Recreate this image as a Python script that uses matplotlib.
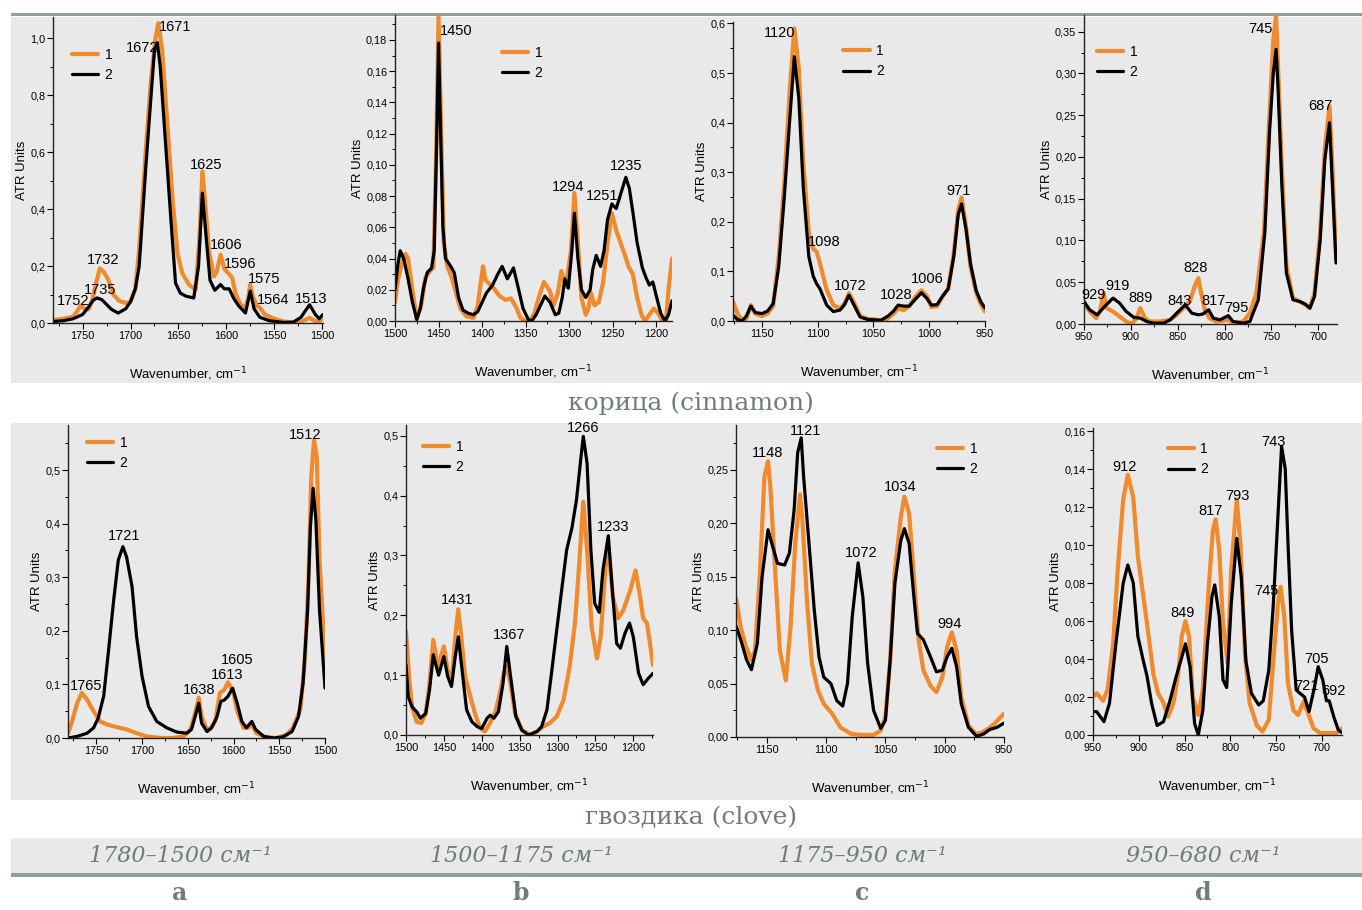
import matplotlib
matplotlib.use("Agg")
import matplotlib.pyplot as plt
from matplotlib.patches import Rectangle
from matplotlib.ticker import MultipleLocator, FuncFormatter

plt.rcParams['font.family'] = ['Liberation Sans Narrow', 'Liberation Sans', 'DejaVu Sans']

# ---------------- cinnamon, 1780-1500 ----------------
cin_a_wn1 = [1781, 1770, 1760, 1755, 1752, 1748, 1744, 1740, 1736, 1732, 1728, 1723, 1718, 1712, 1705,
             1700, 1695, 1691, 1684, 1679, 1674, 1671, 1667, 1661, 1656, 1651, 1646, 1639, 1632, 1628,
             1625, 1622, 1618, 1613, 1610, 1606, 1602, 1598, 1594, 1590, 1585, 1580, 1577, 1575, 1572,
             1568, 1565, 1560, 1550, 1540, 1530, 1522, 1517, 1513, 1509, 1505, 1502, 1499]
cin_a_ab1 = [0.010, 0.015, 0.022, 0.045, 0.062, 0.050, 0.048, 0.080, 0.140, 0.192, 0.180, 0.150, 0.100, 0.078, 0.070,
             0.075, 0.120, 0.260, 0.610, 0.840, 1.000, 1.053, 0.960, 0.670, 0.430, 0.245, 0.175, 0.135, 0.117, 0.300,
             0.532, 0.420, 0.250, 0.164, 0.180, 0.240, 0.190, 0.175, 0.160, 0.100, 0.065, 0.050, 0.090, 0.135, 0.090,
             0.060, 0.055, 0.030, 0.015, 0.005, 0.002, 0.004, 0.012, 0.018, 0.010, 0.004, 0.008, 0.020]
cin_a_wn2 = [1781, 1770, 1760, 1750, 1743, 1739, 1735, 1730, 1725, 1720, 1713, 1705, 1700, 1695, 1691,
             1684, 1679, 1675, 1672, 1669, 1663, 1658, 1653, 1648, 1642, 1634, 1629, 1625, 1621, 1617,
             1612, 1606, 1602, 1597, 1592, 1587, 1580, 1575, 1571, 1565, 1555, 1540, 1530, 1522, 1517,
             1513, 1507, 1503, 1499]
cin_a_ab2 = [0.005, 0.008, 0.015, 0.030, 0.060, 0.080, 0.088, 0.082, 0.065, 0.048, 0.035, 0.050, 0.075, 0.120, 0.200,
             0.550, 0.780, 0.960, 0.985, 0.900, 0.610, 0.370, 0.140, 0.105, 0.094, 0.088, 0.200, 0.456, 0.300, 0.150,
             0.115, 0.135, 0.120, 0.120, 0.085, 0.060, 0.035, 0.112, 0.050, 0.020, 0.008, 0.002, 0.003, 0.020, 0.045,
             0.064, 0.030, 0.015, 0.030]
cin_a_peaks = ["1752", "1732", "1735", "1672", "1671", "1625", "1606", "1596", "1575", "1564", "1513"]
cin_a_peak_pos = [(1760.4, 0.076), (1728.5, 0.222), (1732, 0.117), (1688.2, 0.965), (1653.8, 1.041),
                  (1621.5, 0.556), (1600, 0.275), (1586, 0.208), (1560.8, 0.154), (1551.4, 0.082),
                  (1511.8, 0.084)]

# ---------------- cinnamon, 1500-1175 ----------------
cin_b_wn1 = [1500, 1497, 1493, 1488, 1485, 1480, 1475, 1470, 1465, 1460, 1456, 1453, 1450, 1447, 1444,
             1440, 1435, 1430, 1425, 1418, 1410, 1405, 1399, 1396, 1388, 1380, 1373, 1367, 1361, 1356,
             1350, 1345, 1340, 1335, 1329, 1322, 1318, 1313, 1309, 1304, 1298, 1294, 1290, 1286, 1281,
             1278, 1275, 1271, 1266, 1261, 1256, 1251, 1246, 1241, 1236, 1232, 1227, 1222, 1217, 1213,
             1208, 1203, 1198, 1193, 1189, 1186, 1182]
cin_b_ab1 = [0.012, 0.025, 0.035, 0.043, 0.040, 0.020, 0.001, 0.010, 0.028, 0.032, 0.034, 0.100, 0.195, 0.120, 0.050,
             0.035, 0.028, 0.018, 0.008, 0.003, 0.002, 0.010, 0.035, 0.026, 0.022, 0.016, 0.0135, 0.0145, 0.009, 0.002,
             0.000, 0.000, 0.005, 0.015, 0.025, 0.019, 0.010, 0.018, 0.032, 0.022, 0.045, 0.082, 0.050, 0.015, 0.004,
             0.008, 0.018, 0.010, 0.012, 0.025, 0.050, 0.069, 0.058, 0.050, 0.042, 0.035, 0.030, 0.015, 0.004, 0.000,
             0.004, 0.008, 0.005, 0.000, 0.000, 0.020, 0.040]
cin_b_wn2 = [1500, 1497, 1494, 1490, 1485, 1480, 1475, 1471, 1467, 1463, 1458, 1455, 1452, 1450, 1448,
             1445, 1442, 1436, 1432, 1427, 1422, 1416, 1410, 1405, 1400, 1395, 1388, 1382, 1377, 1371,
             1364, 1358, 1353, 1347, 1343, 1338, 1333, 1328, 1322, 1316, 1312, 1308, 1305, 1301, 1297,
             1294, 1290, 1286, 1281, 1276, 1273, 1269, 1264, 1260, 1256, 1251, 1246, 1240, 1235, 1231,
             1227, 1222, 1216, 1212, 1208, 1204, 1200, 1195, 1190, 1186, 1182]
cin_b_ab2 = [0.020, 0.035, 0.045, 0.040, 0.027, 0.012, 0.001, 0.008, 0.022, 0.031, 0.034, 0.045, 0.120, 0.178, 0.130,
             0.060, 0.040, 0.035, 0.031, 0.015, 0.007, 0.005, 0.004, 0.006, 0.012, 0.018, 0.023, 0.030, 0.035, 0.027,
             0.034, 0.020, 0.008, 0.001, 0.000, 0.004, 0.010, 0.016, 0.012, 0.004, 0.005, 0.015, 0.027, 0.021, 0.045,
             0.069, 0.040, 0.020, 0.015, 0.020, 0.033, 0.042, 0.035, 0.045, 0.065, 0.075, 0.072, 0.083, 0.092, 0.085,
             0.070, 0.050, 0.034, 0.028, 0.023, 0.025, 0.016, 0.005, 0.000, 0.004, 0.013]
cin_b_peaks = ["1450", "1294", "1251", "1235"]
cin_b_peak_pos = [(1429.7, 0.186), (1301.4, 0.086), (1262.2, 0.080), (1234.2, 0.099)]

# ---------------- cinnamon, 1175-950 ----------------
cin_c_wn = [1176, 1172, 1168, 1164, 1160, 1156, 1150, 1145, 1140, 1135, 1130, 1125, 1121, 1117, 1113,
            1108, 1104, 1101, 1098, 1092, 1086, 1080, 1076, 1072, 1067, 1062, 1055, 1048, 1043, 1037,
            1032, 1028, 1023, 1018, 1012, 1007, 1002, 998, 993, 988, 983, 978, 974, 971, 967,
            963, 958, 954, 950]
cin_c_ab1 = [0.039, 0.015, 0.002, 0.005, 0.032, 0.015, 0.010, 0.015, 0.030, 0.130, 0.280, 0.470, 0.590, 0.510, 0.320,
             0.177, 0.145, 0.140, 0.116, 0.063, 0.032, 0.025, 0.035, 0.056, 0.035, 0.010, 0.004, 0.003, 0.000, 0.005,
             0.015, 0.025, 0.022, 0.030, 0.050, 0.062, 0.050, 0.028, 0.030, 0.050, 0.065, 0.136, 0.225, 0.249, 0.190,
             0.110, 0.058, 0.035, 0.019]
cin_c_ab2 = [0.012, 0.003, 0.000, 0.010, 0.030, 0.017, 0.015, 0.020, 0.035, 0.110, 0.250, 0.410, 0.533, 0.450, 0.270,
             0.130, 0.090, 0.075, 0.065, 0.032, 0.019, 0.022, 0.033, 0.052, 0.030, 0.008, 0.003, 0.002, 0.002, 0.010,
             0.020, 0.032, 0.030, 0.030, 0.045, 0.057, 0.045, 0.032, 0.033, 0.050, 0.065, 0.130, 0.215, 0.236, 0.185,
             0.115, 0.062, 0.040, 0.026]
cin_c_peaks = ["1120", "1098", "1072", "1028", "1006", "971"]
cin_c_peak_pos = [(1134.2, 0.580), (1094.5, 0.160), (1071.2, 0.0706), (1029.7, 0.052), (1002, 0.084),
                  (973.9, 0.263)]

# ---------------- cinnamon, 950-680 ----------------
cin_d_wn1 = [950, 944, 937, 933, 929, 926, 919, 912, 905, 899, 894, 890, 885, 880, 869,
             858, 851, 844, 837, 832, 828, 825, 821, 816, 809, 801, 796, 791, 780, 773,
             766, 758, 753, 748, 745, 743, 739, 734, 727, 720, 714, 709, 704, 698, 693,
             688, 685, 681]
cin_d_ab1 = [0.025, 0.015, 0.007, 0.015, 0.037, 0.019, 0.015, 0.009, 0.003, 0.000, 0.007, 0.019, 0.007, 0.003, 0.003,
             0.005, 0.011, 0.019, 0.027, 0.045, 0.055, 0.037, 0.017, 0.007, 0.003, 0.004, 0.005, 0.001, 0.003, 0.013,
             0.037, 0.110, 0.230, 0.340, 0.370, 0.310, 0.190, 0.070, 0.031, 0.027, 0.023, 0.019, 0.037, 0.110, 0.210,
             0.261, 0.190, 0.077]
cin_d_wn2 = [950, 944, 936, 928, 919, 912, 905, 897, 890, 883, 876, 865, 858, 851, 842,
             835, 828, 823, 817, 812, 805, 796, 791, 780, 773, 764, 757, 752, 748, 745,
             743, 739, 734, 727, 720, 714, 709, 704, 698, 693, 688, 685, 681]
cin_d_ab2 = [0.027, 0.017, 0.011, 0.021, 0.031, 0.025, 0.015, 0.008, 0.007, 0.003, 0.001, 0.001, 0.005, 0.013, 0.023,
             0.013, 0.011, 0.012, 0.017, 0.007, 0.005, 0.010, 0.003, 0.001, 0.003, 0.029, 0.110, 0.230, 0.300, 0.329,
             0.285, 0.170, 0.061, 0.029, 0.027, 0.024, 0.019, 0.033, 0.100, 0.197, 0.241, 0.169, 0.073]
cin_d_peaks = ["929", "919", "889", "843", "828", "817", "795", "745", "687"]
cin_d_peak_pos = [(939.7, 0.035), (913.7, 0.045), (889.9, 0.031), (848.3, 0.027), (830.5, 0.067),
                  (811.3, 0.027), (787.8, 0.019), (761.5, 0.353), (697.5, 0.261)]

# ---------------- clove, 1780-1500 ----------------
clo_a_wn1 = [1781, 1777, 1771, 1766, 1760, 1753, 1746, 1738, 1727, 1717, 1706, 1695, 1680, 1666, 1655,
             1647, 1643, 1638, 1635, 1630, 1626, 1620, 1615, 1610, 1606, 1600, 1596, 1589, 1584, 1580,
             1575, 1564, 1553, 1542, 1535, 1527, 1522, 1518, 1515, 1512, 1509, 1506, 1500]
clo_a_ab1 = [0.009, 0.028, 0.065, 0.084, 0.071, 0.050, 0.031, 0.025, 0.020, 0.016, 0.009, 0.003, 0.000, 0.000, 0.003,
             0.016, 0.040, 0.075, 0.040, 0.019, 0.016, 0.031, 0.084, 0.090, 0.104, 0.084, 0.050, 0.019, 0.019, 0.025,
             0.009, 0.001, 0.000, 0.006, 0.019, 0.053, 0.146, 0.300, 0.488, 0.556, 0.525, 0.332, 0.146]
clo_a_wn2 = [1781, 1771, 1760, 1753, 1748, 1742, 1737, 1731, 1726, 1721, 1717, 1711, 1706, 1700, 1693,
             1684, 1673, 1662, 1651, 1646, 1642, 1638, 1635, 1629, 1624, 1618, 1614, 1610, 1606, 1601,
             1596, 1591, 1586, 1580, 1576, 1567, 1556, 1546, 1536, 1529, 1524, 1519, 1516, 1513, 1510,
             1506, 1500]
clo_a_ab2 = [0.000, 0.003, 0.009, 0.019, 0.037, 0.078, 0.158, 0.258, 0.332, 0.357, 0.338, 0.283, 0.189, 0.115, 0.059,
             0.031, 0.019, 0.011, 0.009, 0.016, 0.040, 0.065, 0.028, 0.012, 0.019, 0.040, 0.068, 0.071, 0.078, 0.093,
             0.065, 0.031, 0.019, 0.031, 0.016, 0.003, 0.000, 0.002, 0.012, 0.040, 0.102, 0.239, 0.394, 0.466, 0.407,
             0.239, 0.093]
clo_a_peaks = ["1765", "1721", "1638", "1613", "1605", "1512"]
clo_a_peak_pos = [(1760.9, 0.0975), (1719.4, 0.376), (1637.6, 0.089), (1606.6, 0.118), (1596.4, 0.145),
                  (1521.8, 0.565)]

# ---------------- clove, 1500-1175 ----------------
clo_b_wn1 = [1500, 1496, 1492, 1486, 1480, 1474, 1469, 1464, 1458, 1450, 1445, 1440, 1435, 1431, 1428,
             1422, 1415, 1409, 1402, 1396, 1389, 1382, 1376, 1371, 1367, 1362, 1356, 1347, 1336, 1327,
             1319, 1310, 1301, 1292, 1284, 1277, 1271, 1266, 1261, 1255, 1248, 1243, 1237, 1233, 1227,
             1220, 1213, 1204, 1197, 1191, 1187, 1182, 1178, 1174]
clo_b_ab1 = [0.173, 0.098, 0.047, 0.022, 0.020, 0.036, 0.086, 0.159, 0.114, 0.148, 0.109, 0.086, 0.164, 0.210, 0.176,
             0.098, 0.064, 0.036, 0.011, 0.006, 0.020, 0.039, 0.070, 0.103, 0.114, 0.086, 0.036, 0.008, 0.000, 0.006,
             0.014, 0.020, 0.031, 0.059, 0.114, 0.187, 0.293, 0.390, 0.309, 0.181, 0.128, 0.164, 0.276, 0.315, 0.231,
             0.195, 0.209, 0.242, 0.275, 0.231, 0.195, 0.187, 0.153, 0.117]
clo_b_wn2 = [1500, 1497, 1492, 1486, 1481, 1474, 1469, 1464, 1457, 1450, 1445, 1440, 1435, 1431, 1427,
             1420, 1413, 1406, 1400, 1393, 1389, 1384, 1378, 1372, 1367, 1362, 1355, 1347, 1338, 1327,
             1321, 1314, 1308, 1301, 1294, 1288, 1281, 1275, 1269, 1266, 1261, 1256, 1251, 1245, 1240,
             1233, 1228, 1222, 1217, 1211, 1205, 1200, 1193, 1187, 1180, 1174]
clo_b_ab2 = [0.117, 0.064, 0.047, 0.039, 0.028, 0.036, 0.075, 0.134, 0.100, 0.131, 0.098, 0.081, 0.131, 0.164, 0.120,
             0.042, 0.022, 0.014, 0.011, 0.028, 0.033, 0.028, 0.039, 0.086, 0.148, 0.098, 0.031, 0.008, 0.000, 0.006,
             0.014, 0.042, 0.103, 0.176, 0.248, 0.309, 0.346, 0.393, 0.465, 0.499, 0.454, 0.309, 0.220, 0.205, 0.276,
             0.333, 0.248, 0.153, 0.145, 0.170, 0.187, 0.164, 0.103, 0.084, 0.095, 0.103]
clo_b_peaks = ["1431", "1367", "1266", "1233"]
clo_b_peak_pos = [(1432.4, 0.225), (1363.9, 0.167), (1265.9, 0.513), (1226.8, 0.347)]

# ---------------- clove, 1175-950 ----------------
clo_c_wn1 = [1176, 1172, 1168, 1163, 1160, 1156, 1152, 1149, 1147, 1143, 1139, 1134, 1130, 1126, 1122,
             1120, 1116, 1112, 1107, 1102, 1095, 1088, 1079, 1071, 1060, 1054, 1050, 1046, 1042, 1037,
             1034, 1030, 1026, 1022, 1018, 1012, 1007, 1002, 998, 994, 990, 986, 980, 974, 969,
             963, 958, 950]
clo_c_ab1 = [0.130, 0.103, 0.086, 0.072, 0.081, 0.150, 0.244, 0.258, 0.234, 0.156, 0.081, 0.053, 0.103, 0.181, 0.227,
             0.203, 0.125, 0.069, 0.044, 0.031, 0.022, 0.009, 0.003, 0.002, 0.002, 0.006, 0.019, 0.072, 0.156, 0.206,
             0.225, 0.209, 0.150, 0.091, 0.0625, 0.048, 0.042, 0.056, 0.084, 0.098, 0.081, 0.0375, 0.011, 0.003, 0.004,
             0.008, 0.0125, 0.022]
clo_c_wn2 = [1176, 1172, 1167, 1163, 1158, 1154, 1149, 1145, 1141, 1135, 1131, 1127, 1124, 1121, 1119,
             1114, 1110, 1106, 1102, 1096, 1091, 1086, 1082, 1078, 1073, 1069, 1065, 1060, 1054, 1050,
             1046, 1042, 1037, 1034, 1030, 1026, 1023, 1018, 1012, 1007, 1002, 998, 994, 990, 986,
             980, 973, 967, 962, 956, 950]
clo_c_ab2 = [0.104, 0.091, 0.072, 0.063, 0.0875, 0.150, 0.194, 0.178, 0.1625, 0.161, 0.172, 0.2125, 0.266, 0.280, 0.244,
             0.175, 0.119, 0.075, 0.056, 0.050, 0.034, 0.029, 0.050, 0.1125, 0.163, 0.131, 0.069, 0.025, 0.008, 0.0156,
             0.072, 0.144, 0.184, 0.195, 0.181, 0.131, 0.097, 0.091, 0.075, 0.061, 0.0625, 0.075, 0.083, 0.066, 0.031,
             0.009, 0.0006, 0.003, 0.007, 0.009, 0.013]
clo_c_peaks = ["1148", "1121", "1072", "1034", "994"]
clo_c_peak_pos = [(1149.4, 0.266), (1117, 0.286), (1070.7, 0.172), (1037.4, 0.234), (996, 0.106)]

# ---------------- clove, 950-680 ----------------
clo_d_wn1 = [950, 946, 939, 934, 928, 923, 917, 912, 906, 901, 895, 890, 884, 879, 873,
             868, 862, 857, 853, 849, 845, 841, 835, 830, 824, 819, 816, 812, 808, 803,
             799, 793, 789, 784, 779, 771, 765, 758, 753, 748, 745, 741, 737, 731, 726,
             720, 715, 709, 702, 691, 684, 678]
clo_d_ab1 = [0.020, 0.022, 0.018, 0.024, 0.048, 0.087, 0.124, 0.137, 0.125, 0.094, 0.073, 0.055, 0.032, 0.022, 0.017,
             0.0096, 0.017, 0.032, 0.052, 0.060, 0.052, 0.020, 0.0105, 0.024, 0.075, 0.108, 0.1135, 0.097, 0.059, 0.038,
             0.087, 0.124, 0.101, 0.043, 0.017, 0.005, 0.0018, 0.008, 0.039, 0.069, 0.078, 0.062, 0.027, 0.013, 0.0105,
             0.0175, 0.0114, 0.0035, 0.001, 0.001, 0.001, 0.0035]
clo_d_wn2 = [950, 946, 938, 932, 925, 917, 912, 906, 901, 895, 891, 886, 880, 873, 866,
             859, 853, 849, 844, 839, 835, 830, 825, 820, 817, 812, 808, 804, 799, 793,
             788, 783, 777, 769, 764, 758, 753, 748, 744, 740, 737, 733, 728, 724, 719,
             714, 708, 704, 699, 695, 692, 687, 682, 678]
clo_d_ab2 = [0.0123, 0.0123, 0.007, 0.0167, 0.048, 0.080, 0.0895, 0.080, 0.052, 0.039, 0.031, 0.0167, 0.005, 0.007, 0.018,
             0.031, 0.041, 0.048, 0.036, 0.006, 0.000, 0.013, 0.048, 0.073, 0.079, 0.062, 0.029, 0.025, 0.069, 0.1035,
             0.083, 0.039, 0.022, 0.0158, 0.018, 0.034, 0.069, 0.115, 0.152, 0.140, 0.101, 0.055, 0.0237, 0.022, 0.020,
             0.0123, 0.0254, 0.036, 0.029, 0.018, 0.018, 0.0096, 0.0026, 0.0012]
clo_d_peaks = ["912", "849", "817", "793", "743", "745", "721", "705", "692"]
clo_d_peak_pos = [(915.3, 0.141), (852.2, 0.064), (821.2, 0.118), (792, 0.126), (752.6, 0.154),
                  (760.2, 0.076), (716.8, 0.026), (706.2, 0.040), (686.9, 0.023)]

series_labels = ["1", "2"]
sample_titles = ["корица (cinnamon)", "гвоздика (clove)"]
range_titles = ["1780–1500 см⁻¹", "1500–1175 см⁻¹", "1175–950 см⁻¹", "950–680 см⁻¹"]
panel_letters = ["a", "b", "c", "d"]

# ---------------- page layout (pixels) ----------------
W, H = 1362, 910
ORANGE = "#f08a2c"
BAND = "#e8e9e8"
RULE = "#8fa295"
HEAD = "#6d7f71"

fig = plt.figure(figsize=(W / 100, H / 100), dpi=100)
fig.patch.set_facecolor("white")


def fx(px):
    return px / W


def fy(py):
    return 1 - py / H


def band(x0, y0, x1, y1, color):
    fig.patches.append(Rectangle((fx(x0), fy(y1)), (x1 - x0) / W, (y1 - y0) / H,
                                 transform=fig.transFigure, facecolor=color,
                                 edgecolor="none", zorder=-10))


band(11, 17, W, 383, BAND)
band(11, 423, W, 800, BAND)
band(11, 838, W, 873, BAND)
band(11, 13, W, 16, RULE)
band(11, 873, W, 877, RULE)


def comma_fmt(dec):
    return FuncFormatter(lambda v, p: f"{v:.{dec}f}".replace(".", ","))


def panel(rect, wn1, ab1, wn2, ab2, xlim, ylim, ystep, ydec, peaks, peak_pos, leg_xy, ylab_dx):
    L, R, T, B = rect
    ax = fig.add_axes([fx(L), fy(B), (R - L) / W, (B - T) / H])
    ax.set_facecolor("none")
    ax.plot(wn1, ab1, color=ORANGE, lw=3.0, solid_joinstyle="round", solid_capstyle="round",
            label=series_labels[0])
    ax.plot(wn2, ab2, color="black", lw=2.3, solid_joinstyle="round", solid_capstyle="round",
            label=series_labels[1])
    ax.set_xlim(*xlim)
    ax.set_ylim(*ylim)
    for s in ("top", "right"):
        ax.spines[s].set_visible(False)
    for s in ("left", "bottom"):
        ax.spines[s].set_linewidth(1.0)
        ax.spines[s].set_color("#222222")
    ax.xaxis.set_major_locator(MultipleLocator(50))
    ax.xaxis.set_minor_locator(MultipleLocator(25))
    ax.xaxis.set_major_formatter(FuncFormatter(lambda v, p: f"{v:.0f}"))
    ax.yaxis.set_major_locator(MultipleLocator(ystep))
    ax.yaxis.set_minor_locator(MultipleLocator(ystep / 2))
    ax.yaxis.set_major_formatter(comma_fmt(ydec))
    ax.tick_params(which="major", direction="out", length=4, width=0.8, labelsize=7.8, pad=1.5)
    ax.tick_params(which="minor", direction="out", length=2.5, width=0.7)
    ax.set_ylabel("ATR Units", fontsize=9.5)
    ax.yaxis.set_label_coords(ylab_dx / (R - L), 0.5)
    ax.set_xlabel("Wavenumber, cm$^{-1}$", fontsize=9.5)
    ax.xaxis.set_label_coords(0.5, -42 / (B - T))
    for lab, (x, y) in zip(peaks, peak_pos):
        ax.text(x, y, lab, ha="center", va="center", fontsize=10.5, clip_on=False)
    ax.legend(loc="upper left", bbox_to_anchor=leg_xy, frameon=False, fontsize=10,
              handlelength=1.9, handletextpad=0.45, labelspacing=0.45,
              borderaxespad=0, borderpad=0)
    return ax


panel((53, 323, 17, 323), cin_a_wn1, cin_a_ab1, cin_a_wn2, cin_a_ab2, (1781, 1499), (0, 1.075),
      0.2, 1, cin_a_peaks, cin_a_peak_pos, (0.07, 0.90), -25)
panel((395, 672, 15, 321), cin_b_wn1, cin_b_ab1, cin_b_wn2, cin_b_ab2, (1500, 1182), (0, 0.196),
      0.02, 2, cin_b_peaks, cin_b_peak_pos, (0.386, 0.90), -31)
panel((733, 985, 22, 321), cin_c_wn, cin_c_ab1, cin_c_wn, cin_c_ab2, (1176, 950), (0, 0.603),
      0.1, 1, cin_c_peaks, cin_c_peak_pos, (0.437, 0.926), -25)
panel((1084, 1337, 15, 324), cin_d_wn1, cin_d_ab1, cin_d_wn2, cin_d_ab2, (950, 680), (0, 0.37),
      0.05, 2, cin_d_peaks, cin_d_peak_pos, (0.051, 0.903), -31)
panel((68, 325, 425, 738), clo_a_wn1, clo_a_ab1, clo_a_wn2, clo_a_ab2, (1781, 1500), (0, 0.584),
      0.1, 1, clo_a_peaks, clo_a_peak_pos, (0.074, 0.965), -25)
panel((406, 653, 425, 735), clo_b_wn1, clo_b_ab1, clo_b_wn2, clo_b_ab2, (1500, 1174), (0, 0.518),
      0.1, 1, clo_b_peaks, clo_b_peak_pos, (0.069, 0.952), -25)
panel((736, 1004, 425, 737), clo_c_wn1, clo_c_ab1, clo_c_wn2, clo_c_ab2, (1176, 950), (0, 0.292),
      0.05, 2, clo_c_peaks, clo_c_peak_pos, (0.75, 0.946), -31)
panel((1093, 1342, 428, 735), clo_d_wn1, clo_d_ab1, clo_d_wn2, clo_d_ab2, (950, 678), (0, 0.1616),
      0.02, 2, clo_d_peaks, clo_d_peak_pos, (0.30, 0.954), -31)

# sample headings and the range / letter row
for title, ypx in zip(sample_titles, (403, 818)):
    fig.text(fx(691), fy(ypx), title, ha="center", va="center", fontsize=18,
             family="DejaVu Serif", color=HEAD)
for rt, lt, xpx in zip(range_titles, panel_letters, (180, 521, 862, 1203)):
    fig.text(fx(xpx), fy(856), rt, ha="center", va="center", fontsize=16,
             family="DejaVu Serif", style="italic", color=HEAD)
    fig.text(fx(xpx), fy(893), lt, ha="center", va="center", fontsize=17,
             family="DejaVu Serif", weight="bold", color=HEAD)

fig.savefig("out.png", dpi=100, facecolor="white")
